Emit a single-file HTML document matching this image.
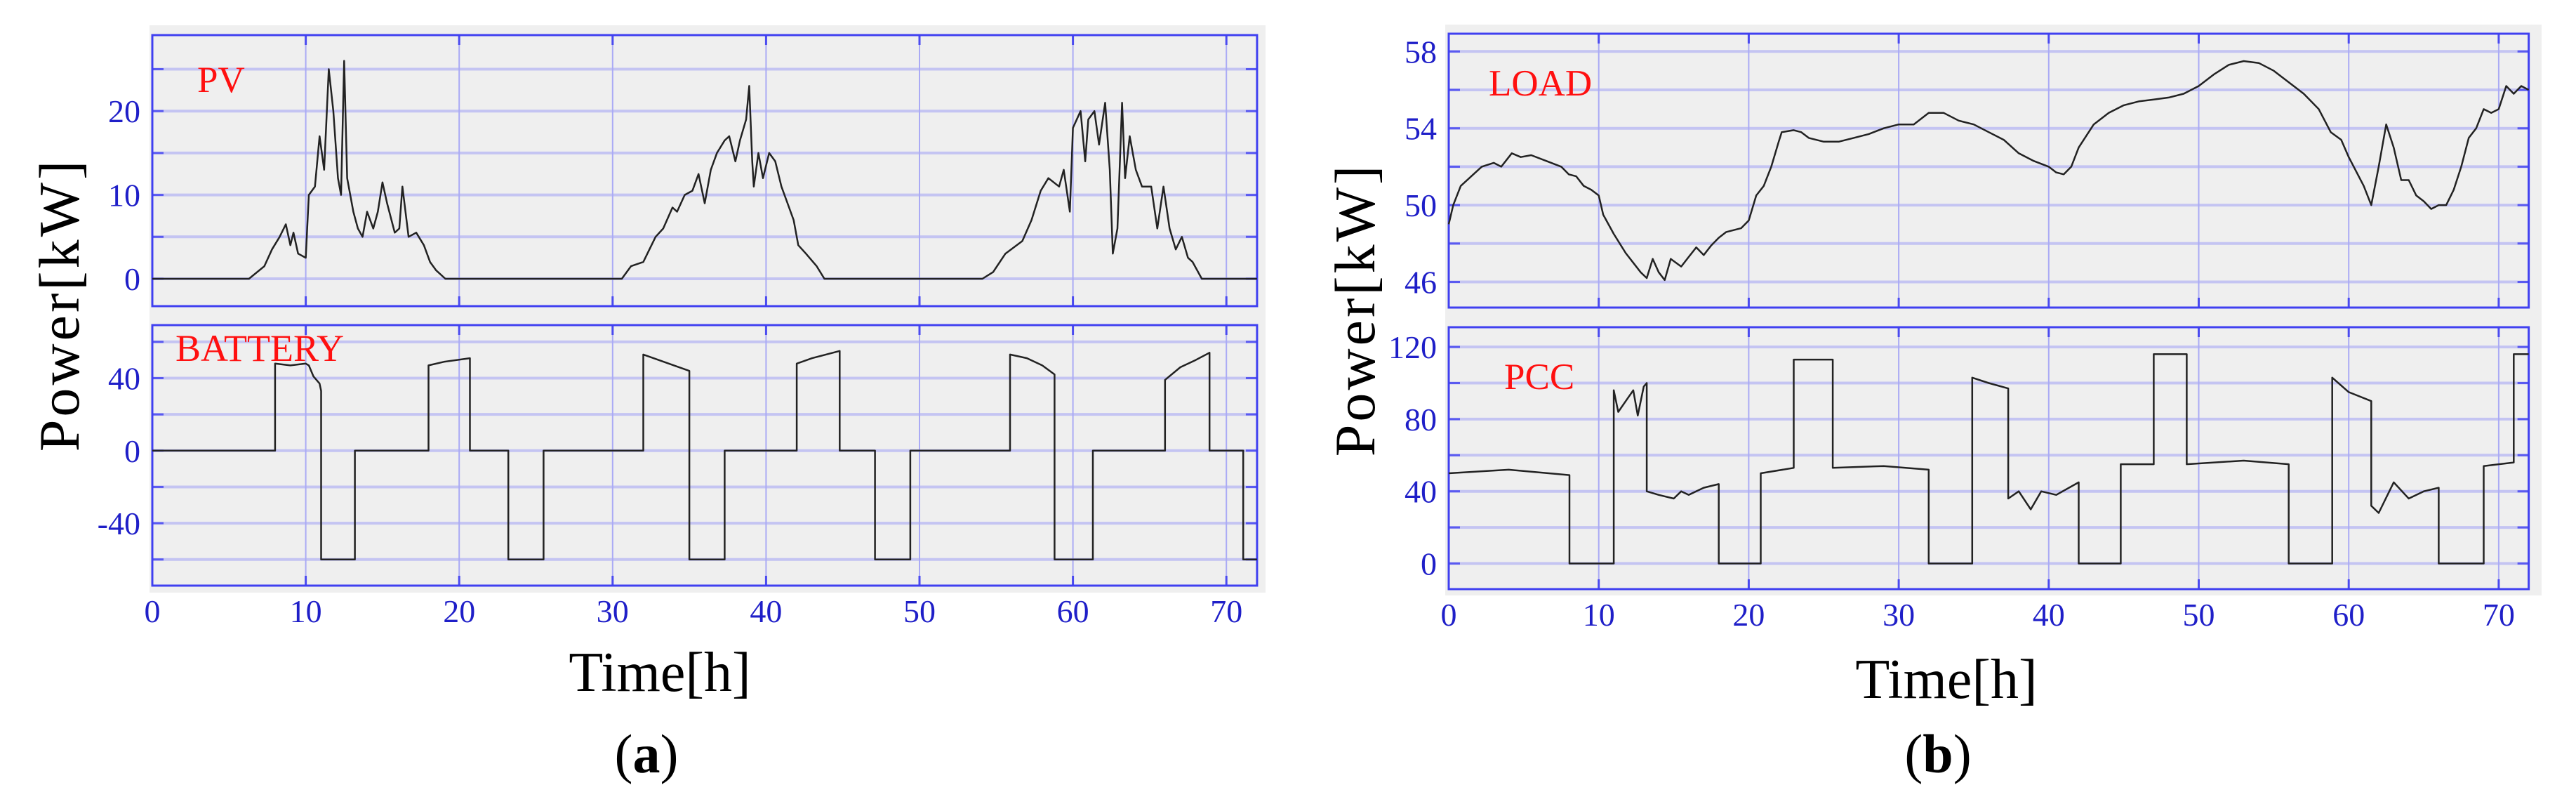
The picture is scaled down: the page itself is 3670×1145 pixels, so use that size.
<!DOCTYPE html>
<html><head><meta charset="utf-8"><style>
html,body{margin:0;padding:0;background:#fff;}
svg{display:block;}
text{font-family:"Liberation Serif",serif;}
</style></head><body>
<svg id="fig" width="3670" height="1145" viewBox="0 0 3670 1145" xmlns="http://www.w3.org/2000/svg">
  <rect x="213" y="36" width="1590" height="808" fill="#efefef"/>
  <rect x="2059" y="35" width="1562" height="813" fill="#efefef"/>
  <text x="0" y="0" transform="translate(112,434) rotate(-90)" text-anchor="middle" font-size="82" letter-spacing="4">Power[kW]</text>
  <text x="0" y="0" transform="translate(1958,441) rotate(-90)" text-anchor="middle" font-size="82" letter-spacing="4">Power[kW]</text>
  <text x="940" y="984" text-anchor="middle" font-size="80">Time[h]</text>
  <text x="2773" y="994" text-anchor="middle" font-size="80">Time[h]</text>
  <text x="921" y="1100" text-anchor="middle" font-size="78">(<tspan font-weight="bold">a</tspan>)</text>
  <text x="2761" y="1100" text-anchor="middle" font-size="78">(<tspan font-weight="bold">b</tspan>)</text>
  <g id="plots"></g>
</svg>
<script>
// ---- data ----
const xTicks = [0,10,20,30,40,50,60,70];
const pvTicks = [0,10,20];
const batTicks = [-40,0,40];
const loadTicks = [46,50,54,58];
const pccTicks = [0,40,80,120];
const pvTime = [0,6.3,7.3,7.8,8.3,8.7,9,9.2,9.5,10,10.2,10.6,10.9,11.2,11.5,11.8,12.1,12.3,12.5,12.7,13.1,13.4,13.7,14,14.4,14.7,15,15.3,15.8,16.1,16.3,16.7,17.2,17.7,18.1,18.5,19.1,30.6,31.2,32,32.8,33.3,33.9,34.2,34.7,35.2,35.6,36,36.4,36.8,37.3,37.6,38,38.3,38.7,38.9,39.1,39.2,39.5,39.8,40.2,40.6,41,41.4,41.8,42.1,42.6,43.3,43.8,54.1,54.8,55.6,56.7,57.3,57.9,58.4,59.1,59.4,59.8,60,60.5,60.8,61,61.4,61.7,62.1,62.4,62.6,62.9,63.2,63.4,63.7,64.1,64.5,65.1,65.5,65.9,66.3,66.7,67.1,67.5,67.8,68.4,72];
const pvValue = [0,0,1.5,3.5,5,6.5,4,5.5,3,2.5,10,11,17,13,25,20,12,10,26,12,8,6,5,8,6,8,11.5,9,5.5,6,11,5,5.5,4,2,1,0,0,1.5,2,5,6,8.5,8,10,10.5,12.5,9,13,15,16.5,17,14,16.5,19,23,14,11,15,12,15,14,11,9,7,4,3,1.5,0,0,0.8,3,4.5,7,10.5,12,11,13,8,18,20,14,19,20,16,21,13,3,6,21,12,17,13,11,11,6,11,6,3.5,5,2.5,2,0,0];
const batTime = [0,8,8,9,10,10.2,10.5,10.9,11,11,13.2,13.2,18,18,19,20.7,20.7,23.2,23.2,25.5,25.5,32,32,33,34,35,35,37.3,37.3,42,42,43,44.8,44.8,47.1,47.1,49.4,49.4,55.9,55.9,57,58,58.8,58.8,61.3,61.3,66,66,67,68,68.9,68.9,71.1,71.1,72];
const batValue = [0,0,48,47,48,47,41,37,33,-60,-60,0,0,47,49,51,0,0,-60,-60,0,0,53,50,47,44,-60,-60,0,0,48,51,55,0,0,-60,-60,0,0,53,51,47,42,-60,-60,0,0,39,46,50,54,0,0,-60,-60];
const loadTime = [0,0.3,0.8,1.5,2.2,3,3.5,4.2,4.8,5.5,6.5,7.5,8,8.5,9,9.5,10,10.3,11,11.8,12.3,12.8,13.2,13.6,14,14.4,14.8,15.5,16,16.5,17,17.5,18,18.5,19.5,20,20.5,21,21.5,22,22.2,23,23.5,24,25,26,27,28,29,30,31,32,33,34,35,36,37,38,39,40,40.5,41,41.5,42,43,44,45,46,47,48,49,50,51,52,53,54,55,56,57,58,58.8,59.5,60,61,61.5,62,62.5,63,63.5,64,64.5,65,65.5,66,66.5,67,67.5,68,68.5,69,69.5,70,70.5,71,71.5,72];
const loadValue = [49,50,51,51.5,52,52.2,52,52.7,52.5,52.6,52.3,52,51.6,51.5,51,50.8,50.5,49.5,48.5,47.5,47,46.5,46.2,47.2,46.5,46.1,47.2,46.8,47.3,47.8,47.4,47.9,48.3,48.6,48.8,49.2,50.5,51,52,53.3,53.8,53.9,53.8,53.5,53.3,53.3,53.5,53.7,54,54.2,54.2,54.8,54.8,54.4,54.2,53.8,53.4,52.7,52.3,52,51.7,51.6,52,53,54.2,54.8,55.2,55.4,55.5,55.6,55.8,56.2,56.8,57.3,57.5,57.4,57,56.4,55.8,55,53.8,53.4,52.5,51,50,52,54.2,53,51.3,51.3,50.5,50.2,49.8,50,50,50.8,52,53.5,54,55,54.8,55,56.2,55.8,56.2,56];
const pccTime = [0,4,8.05,8.05,11,11,11.3,11.8,12.3,12.6,13,13.2,13.2,14,15,15.5,16,17,18,18,20.8,20.8,23,23,25.6,25.6,29,32,32,34.9,34.9,36,37.3,37.3,38,38.8,39.5,40.5,42,42,44.8,44.8,47,47,49.2,49.2,53,56,56,58.9,58.9,60,61.5,61.5,62,63,64,65,66,66,69,69,71,71,72];
const pccValue = [50,52,49,0,0,96,84,90,96,82,98,100,40,38,36,40,38,42,44,0,0,50,53,113,113,53,54,52,0,0,103,100,97,36,40,30,40,38,45,0,0,55,55,116,116,55,57,55,0,0,103,95,90,32,28,45,36,40,42,0,0,54,56,116,116];

const SVGNS = "http://www.w3.org/2000/svg";
const root = document.getElementById('plots');
function mk(tag, attrs, parent){ const e=document.createElementNS(SVGNS,tag); for(const k in attrs) e.setAttribute(k,attrs[k]); (parent||root).appendChild(e); return e; }

function panel(cfg){
  const g = mk('g',{});
  
  
  const X = t => cfg.x0 + (t/10)*cfg.px10;
  const Y = v => cfg.yZero - (v - cfg.vZero)/cfg.step*cfg.pxStep;
  const xr = X(72);
  mk('rect',{x:cfg.x0,y:cfg.top,width:xr-cfg.x0,height:cfg.bottom-cfg.top,fill:'#efefef'},g);
  const half = cfg.step/2;
  for(let v = cfg.gridMin; v <= cfg.gridMax + 1e-9; v += half){
    const y = Y(v);
    if(y < cfg.top+2 || y > cfg.bottom-2) continue;
    const ln = mk('line',{x1:cfg.x0,x2:xr,y1:y,y2:y,stroke:'#c4c4f2','stroke-width':4},g);
    
    
    mk('line',{x1:cfg.x0,x2:cfg.x0+16,y1:y,y2:y,stroke:'#5a5af0','stroke-width':3},g);
    mk('line',{x1:xr-16,x2:xr,y1:y,y2:y,stroke:'#5a5af0','stroke-width':3},g);
  }
  xTicks.forEach(t=>{
    const x = X(t);
    const ln = mk('line',{x1:x,x2:x,y1:cfg.top,y2:cfg.bottom,stroke:'#aaaaf5','stroke-width':2},g);
    
    
    mk('line',{x1:x,x2:x,y1:cfg.top,y2:cfg.top+14,stroke:'#4a4af0','stroke-width':3},g);
    mk('line',{x1:x,x2:x,y1:cfg.bottom-14,y2:cfg.bottom,stroke:'#4a4af0','stroke-width':3},g);
    if(cfg.xLabels){
      const tx = mk('text',{x:x,y:cfg.xLabelY,'text-anchor':'middle','font-size':46,fill:'#1f1fc8'},g);
      tx.textContent = t;
      
      
    }
  });
  mk('rect',{x:cfg.x0,y:cfg.top,width:xr-cfg.x0,height:cfg.bottom-cfg.top,fill:'none',stroke:'#4040f0','stroke-width':3},g);
  cfg.ticks.forEach(v=>{
    const tx = mk('text',{x:cfg.labelRight,y:Y(v)+16,'text-anchor':'end','font-size':46,fill:'#1f1fc8'},g);
    tx.textContent = v;
    
    
  });
  let d='';
  cfg.times.forEach((t,i)=>{ d += (i?'L':'M') + X(t).toFixed(1) + ' ' + Y(cfg.values[i]).toFixed(1) + ' '; });
  const p = mk('path',{d:d,fill:'none',stroke:'#222','stroke-width':2.5,'stroke-linejoin':'round'},g);
  
  
  const lbl = mk('text',{x:cfg.lx,y:cfg.ly,'font-size':cfg.lsize,fill:'#ff1010'},g);
  lbl.textContent = cfg.label;
  
  
}

panel({name:'pv-panel',series:'pv',label:'PV',lx:281,ly:131,lsize:53,x0:217,px10:218.6,top:50,bottom:436,
  yZero:397,vZero:0,step:10,pxStep:119.4,gridMin:-5,gridMax:30,ticks:pvTicks,labelRight:200,xLabels:false,times:pvTime,values:pvValue});
panel({name:'battery-panel',series:'battery',label:'BATTERY',lx:250,ly:514,lsize:54,x0:217,px10:218.6,top:463,bottom:834,
  yZero:641.8,vZero:0,step:40,pxStep:103.3,gridMin:-80,gridMax:80,ticks:batTicks,labelRight:200,xLabels:true,xLabelY:886,times:batTime,values:batValue});
panel({name:'load-panel',series:'load',label:'LOAD',lx:2121,ly:136,lsize:53,x0:2064,px10:213.7,top:48,bottom:438,
  yZero:73.3,vZero:58,step:4,pxStep:109.4,gridMin:42,gridMax:62,ticks:loadTicks,labelRight:2047,xLabels:false,times:loadTime,values:loadValue});
panel({name:'pcc-panel',series:'pcc',label:'PCC',lx:2143,ly:554,lsize:53,x0:2064,px10:213.7,top:466,bottom:839,
  yZero:802.5,vZero:0,step:40,pxStep:102.8,gridMin:-20,gridMax:160,ticks:pccTicks,labelRight:2047,xLabels:true,xLabelY:891,times:pccTime,values:pccValue});
</script>
</body></html>
